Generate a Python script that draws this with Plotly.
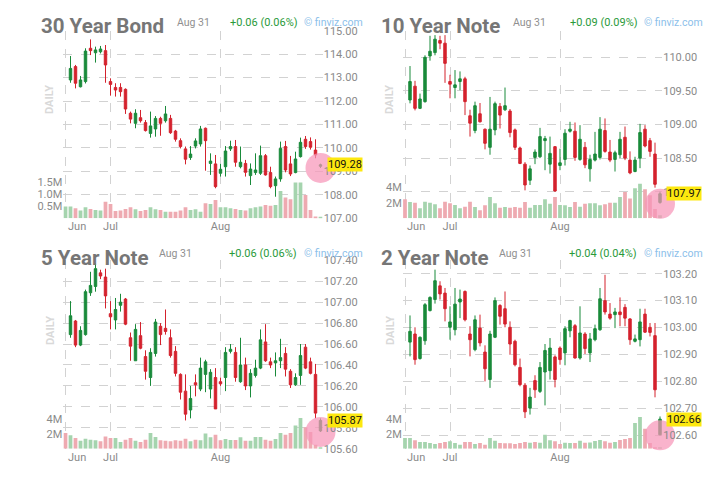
import plotly.graph_objects as go

# the page puts an 8px body margin around the figure
OFF = 8
W, H = 717 - OFF, 479 - OFF

# trading-day index; volume has one extra bar on the left edge
days = list(range(0, 51))
vol_days = list(range(-1, 51))
month_ticks = [-1, 8, 30]
month_labels = ["Jun", "Jul", "Aug"]

bond30_open = [112.90, 113.47, 112.61, 112.83, 114.25, 114.06, 114.10, 114.15, 112.83, 112.58,
               112.58, 112.50, 111.48, 111.05, 111.29, 111.08, 110.62, 110.81, 111.26, 111.16,
               111.26, 110.72, 110.31, 109.96, 109.59, 110.08, 110.17, 110.84, 109.34, 109.32,
               108.92, 109.20, 109.96, 110.06, 109.20, 109.34, 108.82, 108.95, 108.92, 109.67,
               108.95, 108.39, 108.68, 110.06, 109.32, 108.95, 109.63, 110.37, 110.27, 109.91,
               109.22]
bond30_high = [113.92, 113.54, 113.07, 114.25, 114.63, 114.32, 114.35, 114.39, 112.97, 112.76,
               112.76, 112.54, 111.55, 111.65, 111.62, 111.19, 111.55, 111.36, 111.33, 111.79,
               111.41, 110.77, 110.41, 110.06, 110.08, 110.41, 110.94, 110.87, 109.77, 109.70,
               109.32, 110.08, 110.31, 110.34, 110.06, 109.49, 109.34, 109.77, 110.10, 109.74,
               109.20, 108.78, 110.27, 110.30, 109.66, 109.84, 110.44, 110.51, 110.45, 110.37,
               109.33]
bond30_low = [112.78, 112.54, 112.58, 112.75, 113.96, 113.64, 114.03, 112.78, 112.23, 112.19,
              112.19, 111.45, 111.05, 110.84, 111.08, 110.70, 110.44, 110.48, 110.52, 111.08,
              110.60, 110.27, 109.98, 109.30, 109.49, 109.98, 110.06, 109.03, 108.85, 108.28,
              108.78, 108.78, 109.87, 109.20, 109.13, 108.78, 108.42, 108.85, 108.85, 108.82,
              108.28, 107.92, 108.56, 108.96, 108.80, 108.92, 109.59, 109.96, 109.93, 109.56,
              109.15]
bond30_close = [113.39, 112.76, 112.90, 114.13, 114.15, 114.18, 114.22, 113.54, 112.71, 112.47,
                112.40, 111.66, 111.23, 111.48, 111.16, 110.74, 110.94, 111.26, 111.05, 111.45,
                110.65, 110.37, 110.06, 109.52, 109.74, 110.30, 110.81, 110.31, 109.44, 108.35,
                109.09, 109.87, 110.06, 109.39, 109.39, 108.96, 109.10, 109.06, 109.67, 108.85,
                108.35, 108.68, 109.98, 109.06, 108.89, 109.53, 110.24, 110.06, 110.03, 109.70,
                109.28]
bond30_vol = [0.48, 0.48, 0.41, 0.32, 0.45, 0.38, 0.34, 0.32, 0.68, 0.59, 0.30, 0.32, 0.38,
              0.45, 0.37, 0.30, 0.34, 0.45, 0.37, 0.34, 0.27, 0.27, 0.27, 0.32, 0.45, 0.34,
              0.37, 0.27, 0.62, 0.59, 0.75, 0.45, 0.45, 0.41, 0.38, 0.34, 0.32, 0.41, 0.45,
              0.48, 0.55, 0.52, 0.55, 1.12, 0.85, 0.78, 1.47, 1.47, 0.96, 0.34, 0.07, 0.03]

note10_open = [109.365, 109.57, 109.24, 109.34, 110.02, 110.07, 110.25, 110.21, 109.64, 109.55,
               109.64, 109.68, 109.13, 108.91, 109.16, 108.93, 108.66, 108.92, 109.27, 109.22,
               109.20, 108.92, 108.65, 108.41, 108.17, 108.51, 108.52, 108.76, 108.41, 108.67,
               108.39, 108.48, 108.90, 108.90, 108.48, 108.66, 108.34, 108.47, 108.51, 108.91,
               108.59, 108.48, 108.55, 108.81, 108.47, 108.30, 108.50, 108.93, 108.76, 108.56,
               107.84]
note10_high = [109.87, 109.65, 109.46, 110.03, 110.32, 110.33, 110.32, 110.33, 109.74, 109.81,
               109.79, 109.71, 109.22, 109.34, 109.32, 108.94, 109.41, 109.34, 109.32, 109.55,
               109.23, 108.94, 108.67, 108.44, 108.39, 108.63, 108.95, 108.83, 108.82, 108.68,
               108.64, 108.93, 109.04, 109.03, 108.99, 108.74, 108.55, 108.89, 109.11, 109.09,
               108.77, 108.61, 108.89, 108.97, 108.60, 108.52, 109.01, 108.99, 108.80, 108.73,
               108.00]
note10_low = [109.315, 109.21, 109.23, 109.325, 109.95, 110.03, 110.12, 109.62, 109.39, 109.39,
              109.51, 109.14, 108.82, 108.87, 109.03, 108.63, 108.55, 108.84, 108.94, 109.20,
              108.81, 108.62, 108.41, 108.02, 108.10, 108.41, 108.50, 108.32, 108.27, 108.00,
              108.32, 108.39, 108.88, 108.46, 108.46, 108.35, 108.15, 108.45, 108.48, 108.58,
              108.44, 108.30, 108.50, 108.47, 108.26, 108.29, 108.35, 108.66, 108.52, 108.06,
              107.82]
note10_close = [109.64, 109.24, 109.38, 110.00, 110.09, 110.27, 110.21, 109.91, 109.60, 109.59,
                109.68, 109.34, 109.02, 109.28, 109.04, 108.72, 108.93, 109.31, 109.14, 109.28,
                108.88, 108.66, 108.42, 108.10, 108.34, 108.59, 108.82, 108.79, 108.57, 108.01,
                108.43, 108.87, 108.93, 108.51, 108.78, 108.40, 108.48, 108.56, 108.93, 108.60,
                108.47, 108.58, 108.78, 108.50, 108.28, 108.47, 108.88, 108.68, 108.60, 108.11,
                107.97]
note10_vol = [2.48, 2.13, 2.04, 1.30, 2.17, 2.04, 1.83, 1.30, 2.17, 1.96, 1.74, 1.30, 1.52,
              2.17, 1.48, 1.04, 1.70, 2.78, 1.96, 1.39, 1.48, 1.39, 1.48, 1.39, 2.13, 1.39,
              1.74, 1.74, 2.48, 1.91, 2.78, 1.74, 1.70, 1.48, 2.13, 1.52, 1.91, 1.96, 1.96,
              1.70, 1.83, 2.04, 2.04, 2.78, 3.43, 2.57, 3.91, 4.52, 3.78, 3.00, 1.20, 0.40]

note5_open = [106.69, 106.82, 106.59, 106.69, 107.09, 107.15, 107.28, 107.24, 106.89, 106.83,
              106.97, 107.03, 106.66, 106.44, 106.68, 106.48, 106.28, 106.51, 106.77, 106.75,
              106.66, 106.53, 106.31, 106.15, 105.97, 106.23, 106.17, 106.31, 106.17, 106.28,
              106.24, 106.28, 106.53, 106.52, 106.24, 106.40, 106.20, 106.30, 106.37, 106.62,
              106.43, 106.42, 106.44, 106.51, 106.34, 106.21, 106.30, 106.57, 106.43, 106.31,
              105.77]
note5_high = [107.01, 106.83, 106.77, 107.12, 107.29, 107.37, 107.31, 107.32, 107.01, 107.04,
              107.08, 107.04, 106.71, 106.79, 106.81, 106.54, 106.56, 106.84, 106.80, 106.93,
              106.74, 106.58, 106.32, 106.31, 106.20, 106.31, 106.47, 106.45, 106.36, 106.37,
              106.28, 106.57, 106.60, 106.57, 106.66, 106.47, 106.36, 106.45, 106.74, 106.79,
              106.47, 106.52, 106.65, 106.57, 106.36, 106.32, 106.60, 106.60, 106.47, 106.41,
              105.89]
note5_low = [106.66, 106.57, 106.58, 106.68, 107.06, 107.10, 107.22, 106.94, 106.74, 106.74,
             106.91, 106.78, 106.44, 106.44, 106.55, 106.26, 106.20, 106.48, 106.59, 106.69,
             106.47, 106.29, 106.07, 105.87, 105.89, 106.10, 106.15, 106.14, 106.08, 105.98,
             106.20, 106.15, 106.51, 106.24, 106.23, 106.16, 106.09, 106.28, 106.36, 106.43,
             106.37, 106.29, 106.37, 106.29, 106.18, 106.20, 106.21, 106.36, 106.31, 105.89,
             105.76]
note5_close = [106.87, 106.59, 106.73, 107.10, 107.16, 107.32, 107.25, 107.06, 106.86, 106.93,
               107.00, 106.79, 106.58, 106.74, 106.56, 106.34, 106.52, 106.81, 106.69, 106.72,
               106.49, 106.32, 106.14, 105.93, 106.08, 106.21, 106.37, 106.43, 106.33, 105.98,
               106.22, 106.52, 106.55, 106.28, 106.40, 106.20, 106.32, 106.37, 106.64, 106.44,
               106.40, 106.44, 106.47, 106.36, 106.21, 106.28, 106.49, 106.37, 106.32, 105.94,
               105.87]
note5_vol = [2.14, 1.82, 1.45, 1.09, 1.36, 1.23, 1.14, 1.00, 1.68, 1.45, 1.45, 0.91, 1.23,
             1.45, 1.09, 0.91, 1.23, 2.14, 1.59, 1.14, 1.09, 1.00, 1.14, 1.09, 1.36, 1.00,
             1.23, 1.14, 2.09, 1.55, 1.91, 1.14, 1.32, 1.18, 1.18, 1.55, 1.09, 1.09, 1.59,
             1.59, 1.23, 1.09, 1.32, 2.14, 1.91, 2.14, 3.18, 4.18, 2.91, 2.27, 0.55, 0.18]

note2_open = [102.946, 102.976, 102.885, 102.951, 103.063, 103.104, 103.155, 103.128, 103.001, 102.992,
              103.095, 103.134, 102.976, 102.918, 102.998, 102.909, 102.807, 102.964, 103.082, 103.070,
              103.001, 102.949, 102.852, 102.786, 102.701, 102.803, 102.763, 102.835, 102.840, 102.891,
              102.924, 102.906, 102.988, 103.007, 102.887, 102.976, 102.906, 102.955, 102.992, 103.100,
              103.050, 103.048, 103.058, 103.075, 103.032, 102.949, 102.955, 103.050, 103.001, 102.970,
              102.602]
note2_high = [103.045, 103.001, 102.967, 103.091, 103.116, 103.215, 103.172, 103.147, 103.079, 103.147,
              103.141, 103.138, 103.005, 103.045, 103.048, 102.934, 102.988, 103.112, 103.087, 103.134,
              103.023, 102.955, 102.885, 102.794, 102.776, 102.823, 102.872, 102.939, 102.961, 102.897,
              102.930, 103.005, 103.029, 103.013, 103.079, 102.983, 102.980, 103.011, 103.147, 103.196,
              103.091, 103.073, 103.112, 103.087, 103.035, 102.974, 103.070, 103.070, 103.017, 103.017,
              102.670]
note2_low = [102.893, 102.862, 102.881, 102.936, 103.060, 103.089, 103.104, 103.023, 102.955, 102.971,
             103.035, 103.023, 102.893, 102.912, 102.930, 102.800, 102.776, 102.961, 103.011, 103.001,
             102.899, 102.856, 102.782, 102.664, 102.677, 102.739, 102.757, 102.711, 102.807, 102.778,
             102.862, 102.860, 102.964, 102.885, 102.881, 102.902, 102.872, 102.949, 102.988, 103.048,
             103.029, 102.998, 103.005, 103.005, 102.936, 102.945, 102.930, 102.980, 102.967, 102.741,
             102.600]
note2_close = [102.986, 102.881, 102.964, 103.085, 103.112, 103.174, 103.125, 103.070, 103.021, 103.087,
               103.106, 103.029, 102.955, 103.029, 102.943, 102.847, 102.976, 103.100, 103.042, 103.013,
               102.939, 102.862, 102.788, 102.687, 102.742, 102.769, 102.852, 102.915, 102.924, 102.807,
               102.881, 102.996, 103.026, 102.887, 102.980, 102.922, 102.958, 102.996, 103.107, 103.058,
               103.035, 103.058, 103.048, 103.035, 102.955, 102.958, 103.021, 102.983, 102.982, 102.769,
               102.660]
note2_vol = [1.45, 1.45, 1.14, 0.91, 0.91, 0.77, 0.64, 0.77, 0.91, 1.00, 0.77, 0.55, 0.91,
             0.91, 0.64, 0.77, 0.55, 1.45, 1.09, 0.77, 0.73, 0.73, 0.64, 0.77, 0.91, 0.82,
             0.91, 0.82, 1.91, 1.14, 1.00, 0.64, 0.82, 0.77, 0.77, 1.09, 0.82, 0.86, 1.05,
             1.18, 1.00, 0.82, 0.91, 1.18, 1.32, 1.45, 3.50, 4.32, 2.73, 0.77, 0.18, 0.14]

GREEN = "#198a3a"
RED = "#d4222d"
VGREEN = "#a5d4ae"
VRED = "#eeaab1"
GRID = "#d2d2d2"
TXT = "#8a8a8a"
FONT = "Roboto"

panels = [
    dict(title="30 Year Bond", o=bond30_open, h=bond30_high, l=bond30_low, c=bond30_close,
         v=bond30_vol, v0_up=True, change="+0.06 (0.06%)",
         yrange=[107, 115], yticks=[107, 108, 109, 110, 111, 112, 113, 114, 115],
         vrange=[0, 7.71], vticks=[0.5, 1.0, 1.5], vtext=["0.5M", "1.0M", "1.5M"],
         col=0, row=0, date_x=175, chg_x=228),
    dict(title="10 Year Note", o=note10_open, h=note10_high, l=note10_low, c=note10_close,
         v=note10_vol, v0_up=False, change="+0.09 (0.09%)",
         yrange=[107.604, 110.396], yticks=[108.0, 108.5, 109.0, 109.5, 110.0],
         vrange=[0, 24.46], vticks=[2, 4], vtext=["2M", "4M"],
         col=1, row=0, date_x=511, chg_x=568),
    dict(title="5 Year Note", o=note5_open, h=note5_high, l=note5_low, c=note5_close,
         v=note5_vol, v0_up=False, change="+0.06 (0.06%)",
         yrange=[105.6, 107.4], yticks=[105.6, 105.8, 106.0, 106.2, 106.4, 106.6, 106.8, 107.0, 107.2, 107.4],
         vrange=[0, 25.7], vticks=[2, 4], vtext=["2M", "4M"],
         col=0, row=1, date_x=157, chg_x=227),
    dict(title="2 Year Note", o=note2_open, h=note2_high, l=note2_low, c=note2_close,
         v=note2_vol, v0_up=True, change="+0.04 (0.04%)",
         yrange=[102.5502, 103.2498], yticks=[102.6, 102.7, 102.8, 102.9, 103.0, 103.1, 103.2],
         vrange=[0, 25.7], vticks=[2, 4], vtext=["2M", "4M"],
         col=1, row=1, date_x=497, chg_x=567),
]

# plot areas in screen pixels
col_px = [(63.25, 322.75), (402.75, 662.25)]
row_px = [(30.7, 218.3), (260.3, 448.7)]
col_dx = [0, 340]
row_dy = [0, 231]


def fx(p):
    return (p - OFF) / W


def fy(p):
    return 1 - (p - OFF) / H


fig = go.Figure()
layout = dict(
    template="none",
    width=W, height=H, autosize=False, margin=dict(l=0, r=0, t=0, b=0, pad=0),
    paper_bgcolor="white", plot_bgcolor="white", showlegend=False,
    font=dict(family=FONT, color=TXT, size=11),
)
annotations = []

for i, p in enumerate(panels, start=1):
    vy = i          # volume axis (base)
    py = i + 4      # price axis (overlay)
    xs = "x" if i == 1 else "x%d" % i
    vys = "y" if vy == 1 else "y%d" % vy
    pys = "y%d" % py
    x0, x1 = col_px[p["col"]]
    y0, y1 = row_px[p["row"]]
    dx, dy = col_dx[p["col"]], row_dy[p["row"]]

    up = [c >= o for o, c in zip(p["o"], p["c"])]
    vcol = [VGREEN if p["v0_up"] else VRED] + [VGREEN if u else VRED for u in up]

    fig.add_trace(go.Bar(x=vol_days, y=p["v"], marker=dict(color=vcol, line=dict(width=0)),
                         width=0.75, xaxis=xs, yaxis=vys, hoverinfo="skip"))

    # pink highlight around the latest candle
    fig.add_trace(go.Scatter(x=[days[-1]], y=[p["l"][-1]], mode="markers",
                             marker=dict(size=30, color="rgba(246,150,185,0.72)", line=dict(width=0)),
                             cliponaxis=False, xaxis=xs, yaxis=pys, hoverinfo="skip"))
    fig.add_trace(go.Scatter(x=[days[-1] + 0.95], y=[p["c"][-1]], mode="markers",
                             marker=dict(size=9, symbol="triangle-left", color="#f6a21e", line=dict(width=0)),
                             cliponaxis=False, xaxis=xs, yaxis=pys, hoverinfo="skip"))

    fig.add_trace(go.Candlestick(
        x=days, open=p["o"], high=p["h"], low=p["l"], close=p["c"],
        increasing=dict(line=dict(color=GREEN, width=1), fillcolor=GREEN),
        decreasing=dict(line=dict(color=RED, width=1), fillcolor=RED),
        xaxis=xs, yaxis=pys, hoverinfo="skip"))

    # first month label sits to the right of its gridline, the others are centred
    xkey = "xaxis" if i == 1 else "xaxis%d" % i
    layout[xkey] = dict(
        domain=[fx(x0), fx(x1)], anchor=vys, range=[-1.45, 50.45], automargin=False,
        tickvals=month_ticks, ticktext=[""] + month_labels[1:], showgrid=True, gridcolor=GRID,
        griddash="dash", gridwidth=1, zeroline=False, showline=False, ticks="",
        rangeslider=dict(visible=False), tickfont=dict(size=11, color=TXT), fixedrange=True)
    layout["yaxis" if vy == 1 else "yaxis%d" % vy] = dict(
        domain=[fy(y1), fy(y0)], anchor=xs, side="left", range=p["vrange"], automargin=False,
        tickvals=p["vticks"], ticktext=p["vtext"], showgrid=False, zeroline=False,
        ticks="", tickfont=dict(size=11, color=TXT), fixedrange=True)
    layout["yaxis%d" % py] = dict(
        domain=[fy(y1), fy(y0)], anchor=xs, overlaying=vys, side="right", range=p["yrange"],
        automargin=False, tickvals=p["yticks"], ticktext=["%.2f" % t for t in p["yticks"]],
        showgrid=True, gridcolor=GRID, griddash="dash", gridwidth=1, zeroline=False,
        ticks="", tickfont=dict(size=11, color=TXT), fixedrange=True)

    top_y = 22.5 + dy
    annotations += [
        dict(text=month_labels[0], x=month_ticks[0], y=fy(y1 + 8.5), xref=xs, yref="paper",
             xanchor="left", yanchor="middle", showarrow=False, font=dict(size=11, color=TXT)),
        dict(text="<b>%s</b>" % p["title"], x=fx(39 + dx), y=fy(26.5 + dy), xref="paper", yref="paper",
             xanchor="left", yanchor="middle", showarrow=False,
             font=dict(size=20.5, color="#767676", family=FONT)),
        dict(text="Aug 31", x=fx(p["date_x"]), y=fy(top_y), xref="paper", yref="paper",
             xanchor="left", yanchor="middle", showarrow=False, font=dict(size=10.5, color="#8f8f8f")),
        dict(text=p["change"], x=fx(p["chg_x"]), y=fy(top_y), xref="paper", yref="paper",
             xanchor="left", yanchor="middle", showarrow=False, font=dict(size=11, color="#2a9a3a")),
        dict(text="© finviz.com", x=fx(302 + dx), y=fy(top_y), xref="paper", yref="paper",
             xanchor="left", yanchor="middle", showarrow=False, font=dict(size=10.5, color="#8cc0ea")),
        dict(text="<b>DAILY</b>", x=fx(50 + dx), y=fy(100 + dy), xref="paper", yref="paper",
             textangle=-90, xanchor="center", yanchor="middle", showarrow=False,
             font=dict(size=11, color="#d9d9d9")),
        dict(text="%.2f" % p["c"][-1], x=fx(x1 + 4), y=p["c"][-1], xref="paper", yref=pys,
             xanchor="left", yanchor="middle", showarrow=False, bgcolor="#fde80f", borderpad=0,
             font=dict(size=11, color="#111111")),
    ]

layout["annotations"] = annotations
fig.update_layout(**layout)

fig.write_html("out.html")
